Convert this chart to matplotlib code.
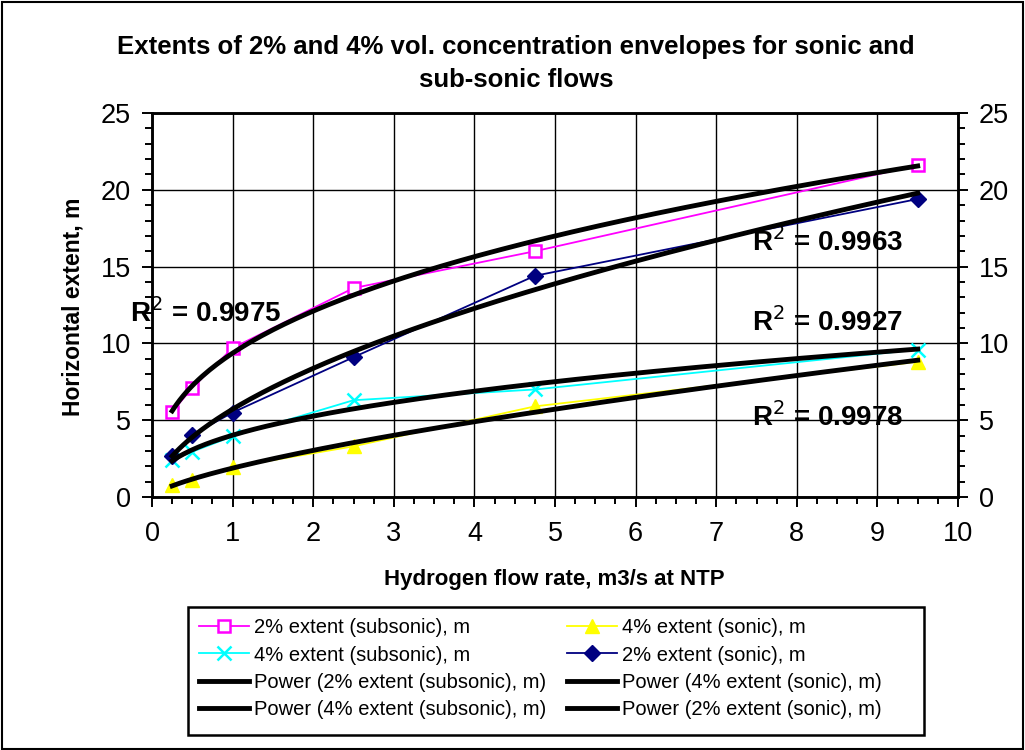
import numpy as np
import matplotlib.pyplot as plt
from matplotlib.ticker import MultipleLocator

plt.rcParams['font.family'] = ['Liberation Sans', 'DejaVu Sans']

# ------------------ DATA ------------------
flow = [0.25, 0.5, 1.0, 2.5, 4.75, 9.5]
ext2_sub = [5.55, 7.1, 9.7, 13.6, 16.0, 21.6]
ext4_sub = [2.4, 2.95, 3.95, 6.3, 7.0, 9.6]
ext4_son = [0.75, 1.1, 1.95, 3.3, 5.9, 8.8]
ext2_son = [2.65, 4.05, 5.5, 9.1, 14.4, 19.4]

r2_labels = ["0.9975", "0.9963", "0.9927", "0.9978"]
r2_pos = [(-0.27, 12.0), (7.45, 16.6), (7.45, 11.4), (7.45, 5.2)]

W, H = 1025, 750
x = np.array(flow)


def power_fit(y):
    b, loga = np.polyfit(np.log(x), np.log(np.array(y)), 1)
    xs = np.linspace(x.min(), x.max(), 200)
    return xs, np.exp(loga) * xs ** b


fig = plt.figure(figsize=(W / 100, H / 100), dpi=100)
ax = fig.add_axes([152 / W, 1 - 497 / H, (958 - 152) / W, (497 - 113) / H])

# ------------------ SERIES ------------------
h1, = ax.plot(flow, ext2_sub, color="#FF00FF", lw=1.3, marker="s", ms=9,
              mfc="white", mec="#FF00FF", mew=1.8, label="2% extent (subsonic), m")
h2, = ax.plot(flow, ext4_sub, color="#00FFFF", lw=1.3, marker="x", ms=10,
              mew=1.8, label="4% extent (subsonic), m")
h3, = ax.plot(flow, ext4_son, color="#FFFF00", lw=1.3, marker="^", ms=10,
              label="4% extent (sonic), m")
h4, = ax.plot(flow, ext2_son, color="#000080", lw=1.3, marker="D", ms=8,
              label="2% extent (sonic), m")

# --- power trendlines ---
tr = []
for ys, name in [(ext2_sub, "2% extent (subsonic), m"), (ext4_sub, "4% extent (subsonic), m"),
                 (ext4_son, "4% extent (sonic), m"), (ext2_son, "2% extent (sonic), m")]:
    xs, yf = power_fit(ys)
    t, = ax.plot(xs, yf, color="black", lw=3.5, label=f"Power ({name})", zorder=4)
    tr.append(t)

for lab, (px, py) in zip(r2_labels, r2_pos):
    ax.text(px, py, f"R$^2$ = {lab}", fontsize=20, fontweight="bold", va="center",
            ha="left", zorder=6, clip_on=False)

# ------------------ AXES ------------------
ax.set_xlim(0, 10)
ax.set_ylim(0, 25)
ax.xaxis.set_major_locator(MultipleLocator(1))
ax.xaxis.set_minor_locator(MultipleLocator(0.25))
ax.yaxis.set_major_locator(MultipleLocator(5))
ax.yaxis.set_minor_locator(MultipleLocator(1))
ax.grid(True, which="major", color="black", lw=1)
ax.tick_params(which="both", direction="out", labelsize=19.5, width=1.4, pad=8)
ax.tick_params(which="major", length=7)
ax.tick_params(which="minor", length=5)
ax.tick_params(axis="x", pad=10)
for s in ax.spines.values():
    s.set_linewidth(1.8)

ax2 = ax.twinx()
ax2.set_ylim(0, 25)
ax2.yaxis.set_major_locator(MultipleLocator(5))
ax2.yaxis.set_minor_locator(MultipleLocator(1))
ax2.tick_params(which="both", direction="out", labelsize=19.5, width=1.4, pad=8)
ax2.tick_params(which="major", length=7)
ax2.tick_params(which="minor", length=5)
for s in ax2.spines.values():
    s.set_linewidth(1.8)

fig.text(554 / W, 1 - 580 / H, "Hydrogen flow rate, m3/s at NTP",
         ha="center", va="center", fontsize=16, fontweight="bold")
fig.text(73 / W, 1 - 307 / H, "Horizontal extent, m", rotation=90,
         ha="center", va="center", fontsize=16.5, fontweight="bold")

# title: two lines, second centred under the first
t1 = fig.text(117 / W, 1 - 54 / H,
              "Extents of 2% and 4% vol. concentration envelopes for sonic and",
              ha="left", va="baseline", fontsize=18.5, fontweight="bold")
bb = t1.get_window_extent(renderer=fig.canvas.get_renderer())
fig.text((bb.x0 + bb.x1) / 2 / W, 1 - 87 / H, "sub-sonic flows",
         ha="center", va="baseline", fontsize=18.5, fontweight="bold")

# ------------------ LEGEND ------------------
handles = [h1, h2, tr[0], tr[1], h3, h4, tr[2], tr[3]]
leg = fig.legend(handles=handles, loc="upper left", bbox_to_anchor=(188 / W, 1 - 607 / H),
                 ncol=2, fontsize=14.5, frameon=False,
                 borderaxespad=0, handlelength=2.5, handletextpad=0.25, columnspacing=1.0,
                 labelspacing=0.42, borderpad=0.55)
for lh in leg.get_lines():
    if lh.get_color() == "black":
        lh.set_linewidth(3.5)
fig.patches.append(plt.Rectangle((188 / W, 1 - 735 / H), (924 - 188) / W, (735 - 607) / H,
                                 transform=fig.transFigure, fill=False,
                                 edgecolor="black", lw=1.8))

# outer chart border
fig.patches.append(plt.Rectangle((0.002, 0.002), 0.996, 0.996, transform=fig.transFigure,
                                 fill=False, edgecolor="black", lw=1.5))

fig.savefig("out.png", dpi=100)
